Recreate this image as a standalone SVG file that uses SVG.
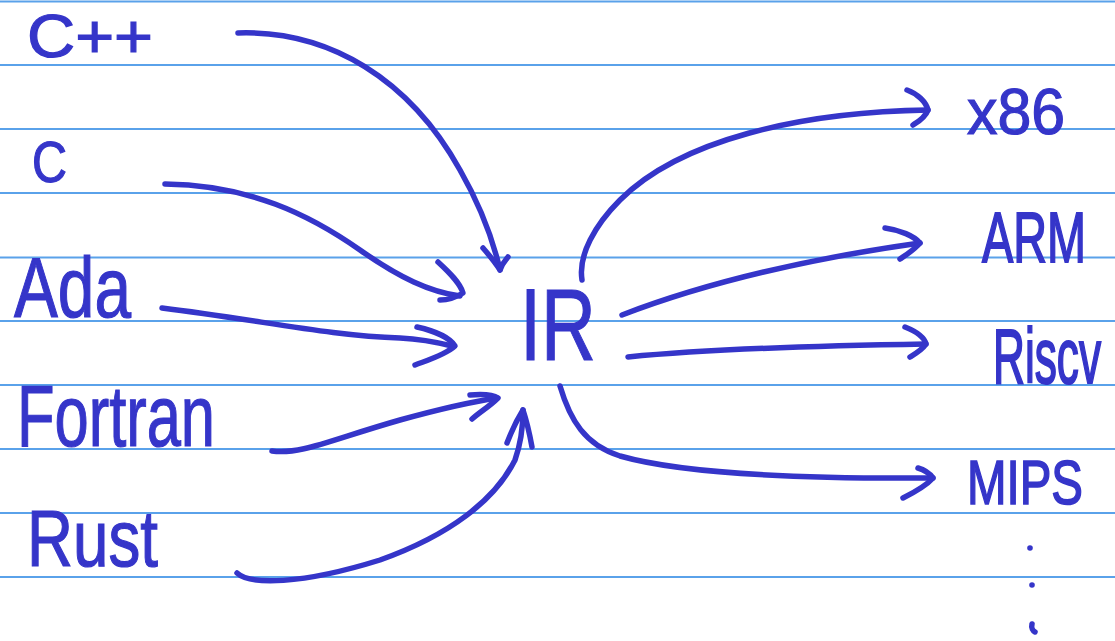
<svg xmlns="http://www.w3.org/2000/svg" width="1115" height="641" viewBox="0 0 1115 641">
<style>
.rule{stroke:#5aa2ea;stroke-width:2;fill:none}
.ink{stroke:#3535c9;stroke-width:5.5;fill:none;stroke-linecap:round;stroke-linejoin:round}
.lbl{fill:#3535c9;stroke:#3535c9;stroke-width:1.2;font-family:"Liberation Sans",Arial,sans-serif}
</style>
<rect width="1115" height="641" fill="#ffffff"/>
<g id="paper">
<line class="rule" x1="0" y1="1.5" x2="1115" y2="1.5"/>
<line class="rule" x1="0" y1="65" x2="1115" y2="65"/>
<line class="rule" x1="0" y1="129" x2="1115" y2="129"/>
<line class="rule" x1="0" y1="193" x2="1115" y2="193"/>
<line class="rule" x1="0" y1="257.5" x2="1115" y2="257.5"/>
<line class="rule" x1="0" y1="321" x2="1115" y2="321"/>
<line class="rule" x1="0" y1="385" x2="1115" y2="385"/>
<line class="rule" x1="0" y1="449" x2="1115" y2="449"/>
<line class="rule" x1="0" y1="513" x2="1115" y2="513"/>
<line class="rule" x1="0" y1="577" x2="1115" y2="577"/>
</g>
<g id="connectors">
<path class="ink" d="M238,33 C330,30 410,80 460,170 C480,205 493,240 500,270"/>
<path class="ink" d="M483,248 C490,256 495,262 500,270 C503,262 506,260 508,257"/>
<path class="ink" d="M165,184 C250,185 310,215 360,250 C400,278 430,292 460,296"/>
<path class="ink" d="M438,262 C450,273 460,283 463,293 C455,298 447,300 440,300"/>
<path class="ink" d="M162,308 C260,320 330,336 400,338 C420,339 440,343 452,346"/>
<path class="ink" d="M417,327 C435,331 450,338 455,346 C445,355 428,360 415,365"/>
<path class="ink" d="M272,451 C300,455 330,440 400,420 C440,409 470,402 497,398"/>
<path class="ink" d="M470,395 C482,394 492,394 498,398 C490,406 480,412 472,419"/>
<path class="ink" d="M237,573 C250,585 300,585 380,560 C450,535 495,500 515,460 C522,440 523,420 523,410"/>
<path class="ink" d="M507,443 C512,430 518,418 523,410 C527,422 530,436 532,447"/>
<path class="ink" d="M582,280 C578,255 595,225 620,200 C680,140 800,112 928,110"/>
<path class="ink" d="M907,90 C918,94 926,102 928,110 C925,118 918,122 913,125"/>
<path class="ink" d="M622,315 C700,285 800,260 920,243"/>
<path class="ink" d="M885,228 C900,230 914,236 920,243 C914,250 906,255 900,259"/>
<path class="ink" d="M628,357 C700,350 800,346 926,344"/>
<path class="ink" d="M905,327 C915,331 924,336 926,344 C922,350 915,354 910,357"/>
<path class="ink" d="M560,386 C570,420 585,445 620,456 C680,473 800,479 933,478"/>
<path class="ink" d="M918,468 C925,470 930,474 933,478 C925,487 913,493 903,498"/>
</g>
<g id="node-cpp"><text class="lbl" x="27" y="57" font-size="62" textLength="126" lengthAdjust="spacingAndGlyphs">C++</text></g>
<g id="node-c"><text class="lbl" x="32" y="182" font-size="57" textLength="35" lengthAdjust="spacingAndGlyphs">C</text></g>
<g id="node-ada"><text class="lbl" x="14" y="317" font-size="86" textLength="117" lengthAdjust="spacingAndGlyphs">Ada</text></g>
<g id="node-fortran"><text class="lbl" x="17" y="446" font-size="88" textLength="198" lengthAdjust="spacingAndGlyphs">Fortran</text></g>
<g id="node-rust"><text class="lbl" x="27" y="566" font-size="80" textLength="131" lengthAdjust="spacingAndGlyphs">Rust</text></g>
<g id="node-ir"><text class="lbl" x="520" y="360" font-size="102" textLength="76" lengthAdjust="spacingAndGlyphs">IR</text></g>
<g id="node-x86"><text class="lbl" x="967" y="134" font-size="64" textLength="98" lengthAdjust="spacingAndGlyphs">x86</text></g>
<g id="node-arm"><text class="lbl" transform="translate(982,262) scale(1,1.49)" x="0" y="0" font-size="47" textLength="104" lengthAdjust="spacingAndGlyphs">ARM</text></g>
<g id="node-riscv"><text class="lbl" transform="translate(993,383) scale(1,1.75)" x="0" y="0" font-size="45" textLength="108" lengthAdjust="spacingAndGlyphs">Riscv</text></g>
<g id="node-mips"><text class="lbl" transform="translate(967,504) scale(1,1.32)" x="0" y="0" font-size="47" textLength="116" lengthAdjust="spacingAndGlyphs">MIPS</text></g>
<g id="ellipsis">
<circle cx="1030" cy="548" r="2.8" fill="#3535c9"/>
<circle cx="1032" cy="585" r="2.8" fill="#3535c9"/>
<path class="ink" d="M1032,624 C1031,628 1033,631 1035,632"/>
</g>
</svg>
